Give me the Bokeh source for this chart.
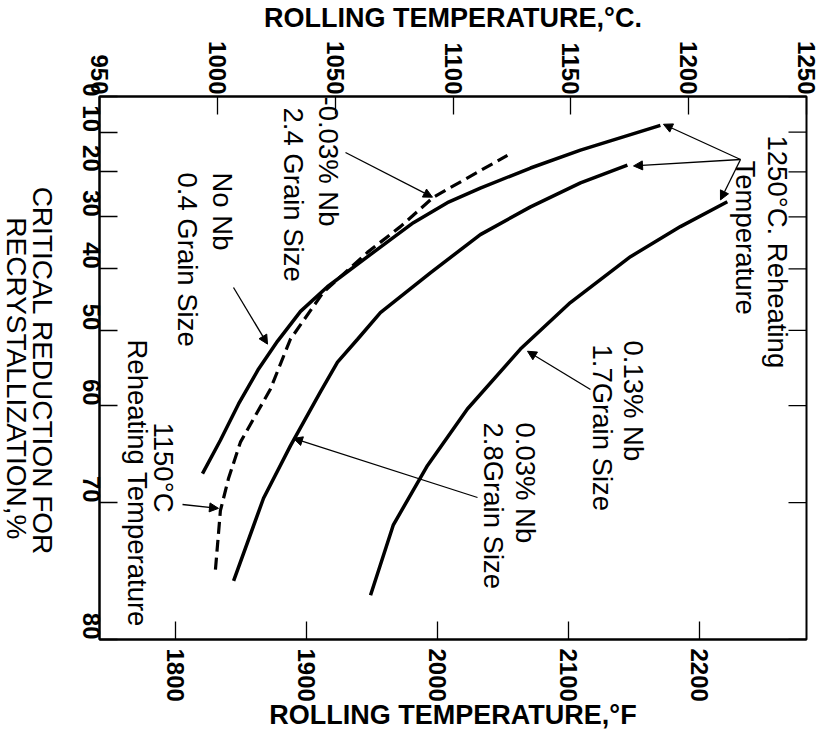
import math
from bokeh.plotting import figure
from bokeh.layouts import row
from bokeh.models import Range1d, LinearAxis, FixedTicker, Label, Arrow, NormalHead
from bokeh.embed import file_html
from bokeh.resources import INLINE

# ---------------- data (rolling temperature in degC, critical reduction in %) ----------------
# No Nb, 0.4 grain size, 1250C reheat
nonb_temp = [993.7, 1001.3, 1009.0, 1017.5, 1025.5, 1035.3, 1046.7, 1069.2, 1083.2, 1097.6, 1111.6, 1124.4, 1132.9, 1154.1, 1188.0]
nonb_red = [67.3, 63.9, 59.8, 55.4, 51.6, 47.1, 43.1, 36.0, 31.2, 27.0, 23.8, 21.0, 19.1, 14.7, 8.2]
# 0.03% Nb, 2.4 grain size, 1150C reheat (dashed)
nb03_1150_temp = [999.2, 1001.3, 1004.7, 1009.8, 1022.5, 1031.0, 1045.0, 1063.7, 1077.7, 1091.7, 1123.1]
nb03_1150_red = [75.4, 70.7, 67.8, 64.1, 58.0, 51.3, 44.0, 37.0, 32.0, 25.8, 16.0]
# 0.03% Nb, 2.8 grain size, 1250C reheat
nb03_temp = [1006.9, 1019.6, 1031.0, 1043.8, 1051.0, 1059.5, 1069.2, 1090.4, 1111.6, 1132.9, 1154.1, 1174.0]
nb03_red = [76.2, 69.6, 64.5, 58.3, 54.5, 51.3, 47.3, 40.7, 33.6, 27.9, 22.6, 18.4]
# 0.13% Nb, 1.7 grain size, 1250C reheat
nb13_temp = [1065.0, 1074.7, 1089.2, 1106.1, 1128.6, 1149.8, 1175.3, 1196.5, 1216.4]
nb13_red = [77.2, 71.9, 66.5, 60.4, 52.7, 45.7, 37.8, 32.0, 26.8]

c_ticks = [950, 1000, 1050, 1100, 1150, 1200, 1250]
f_ticks = [1800, 1900, 2000, 2100, 2200]
red_ticks = [0, 10, 20, 30, 40, 50, 60, 70, 80]

FONT = "Liberation Sans"

def to_y(vals):
    # the reduction axis is logarithmic in (100 - reduction)
    return [100 - v for v in vals]

H = 732
TW = 58                     # width of the strip that holds the left title
W = 820 - TW
FL, FT, FR, FB = 99, 96, 806, 642   # frame edges in picture pixels

# ---------------- left title strip ----------------
pt = figure(width=TW, height=H, x_range=Range1d(0, TW), y_range=Range1d(H, 0),
            x_axis_location=None, y_axis_location=None,
            output_backend="svg", toolbar_location=None,
            min_border_left=0, min_border_right=0, min_border_top=0, min_border_bottom=0)
pt.outline_line_color = None
pt.background_fill_color = "white"
pt.border_fill_color = "white"
pt.grid.visible = False
for lx, ly, s in [(42, 370, "CRITICAL REDUCTION FOR"), (16, 380, "RECRYSTALLIZATION,%")]:
    pt.add_layout(Label(x=lx, y=ly, text=s, angle=-math.pi / 2, text_align="center",
                        text_baseline="middle", text_font=FONT, text_font_size="28px",
                        text_color="black"))

# ---------------- main chart ----------------
p = figure(width=W, height=H, x_range=Range1d(950, 1250), y_range=Range1d(20, 100),
           y_axis_type="log", x_axis_location="above",
           output_backend="svg", toolbar_location=None,
           min_border_left=FL - TW, min_border_right=820 - FR, min_border_top=FT, min_border_bottom=H - FB)
p.background_fill_color = "white"
p.border_fill_color = "white"
p.outline_line_color = "black"
p.outline_line_width = 2
p.xgrid.visible = False
p.ygrid.visible = False
p.extra_x_ranges = {"F": Range1d(950 * 9 / 5 + 32, 1250 * 9 / 5 + 32)}

def style_axis(ax, standoff):
    ax.major_tick_in = 18
    ax.major_tick_out = 0
    ax.minor_tick_line_color = None
    ax.axis_line_width = 2
    ax.major_tick_line_width = 1.3
    ax.major_label_orientation = -math.pi / 2
    ax.major_label_text_font = FONT
    ax.major_label_text_font_style = "bold"
    ax.major_label_text_font_size = "24px"
    ax.major_label_text_color = "black"
    ax.major_label_standoff = standoff

def style_title(ax, standoff):
    ax.axis_label_text_font = FONT
    ax.axis_label_text_font_style = "bold"
    ax.axis_label_text_font_size = "27px"
    ax.axis_label_text_color = "black"
    ax.axis_label_standoff = standoff

top = p.xaxis[0]
top.ticker = FixedTicker(ticks=c_ticks)
style_axis(top, 2)
top.axis_label = "ROLLING TEMPERATURE,°C."
style_title(top, 5)

left = p.yaxis[0]
left.ticker = FixedTicker(ticks=to_y(red_ticks))
left.major_label_overrides = {100 - v: str(v) for v in red_ticks}
style_axis(left, 8)

bottom = LinearAxis(x_range_name="F", ticker=FixedTicker(ticks=f_ticks))
style_axis(bottom, 9)
bottom.axis_label = "ROLLING TEMPERATURE,°F"
style_title(bottom, -5)
p.add_layout(bottom, "below")

# inward ticks on the right edge, at the reduction tick values
p.ray(x=[1250] * len(red_ticks), y=to_y(red_ticks), length=18, length_units="screen",
      angle=math.pi, line_color="black", line_width=1.3)

# ---------------- curves ----------------
p.line(nonb_temp, to_y(nonb_red), line_color="black", line_width=3.5)
p.line(nb03_1150_temp, to_y(nb03_1150_red), line_color="black", line_width=3.2, line_dash="12 6")
p.line(nb03_temp, to_y(nb03_red), line_color="black", line_width=3.5)
p.line(nb13_temp, to_y(nb13_red), line_color="black", line_width=3.5)

# ---------------- texts (picture-pixel positions, converted to frame-relative screen units) ----------------
def txt(px, py, s, size="27.5px", align="left"):
    p.add_layout(Label(x=px - FL, y=FB - py, x_units="screen", y_units="screen", text=s,
                       angle=-math.pi / 2, text_align=align, text_baseline="middle",
                       text_font=FONT, text_font_size=size, text_color="black"))

txt(328, 99, "-0.03% Nb")
txt(293, 110, "2.4 Grain Size")
txt(222, 175, "No Nb")
txt(187, 175, "0.4 Grain Size")
txt(163, 425, "1150°C")
txt(137, 342, "Reheating Temperature")
txt(777, 138, "1250°C. Reheating")
txt(745, 163, "Temperature")
txt(633, 343, "0.13% Nb")
txt(602, 347, "1.7Grain Size")
txt(525, 425, "0.03% Nb")
txt(493, 425, "2.8Grain Size")

# ---------------- arrows: start in picture pixels, tip in data (degC, reduction %) ----------------
arrow_start_px = [(345, 155), (233, 290), (182, 507), (477, 500), (590, 392), (740, 162), (740, 162), (740, 162)]
arrow_tip_temp = [1091.3, 1021.3, 1000.5, 1032.3, 1131.6, 1189.3, 1176.6, 1213.5]
arrow_tip_red = [25.8, 52.0, 70.5, 63.7, 53.0, 7.9, 18.6, 26.4]

for (sx, sy), tx, ty in zip(arrow_start_px, arrow_tip_temp, to_y(arrow_tip_red)):
    p.add_layout(Arrow(end=NormalHead(size=9, fill_color="black", line_color="black"),
                       x_start=sx - FL, y_start=FB - sy, start_units="screen",
                       x_end=tx, y_end=ty, end_units="data",
                       line_color="black", line_width=1.3))

layout = row(pt, p)
open("out.html", "w").write(file_html(layout, INLINE))
